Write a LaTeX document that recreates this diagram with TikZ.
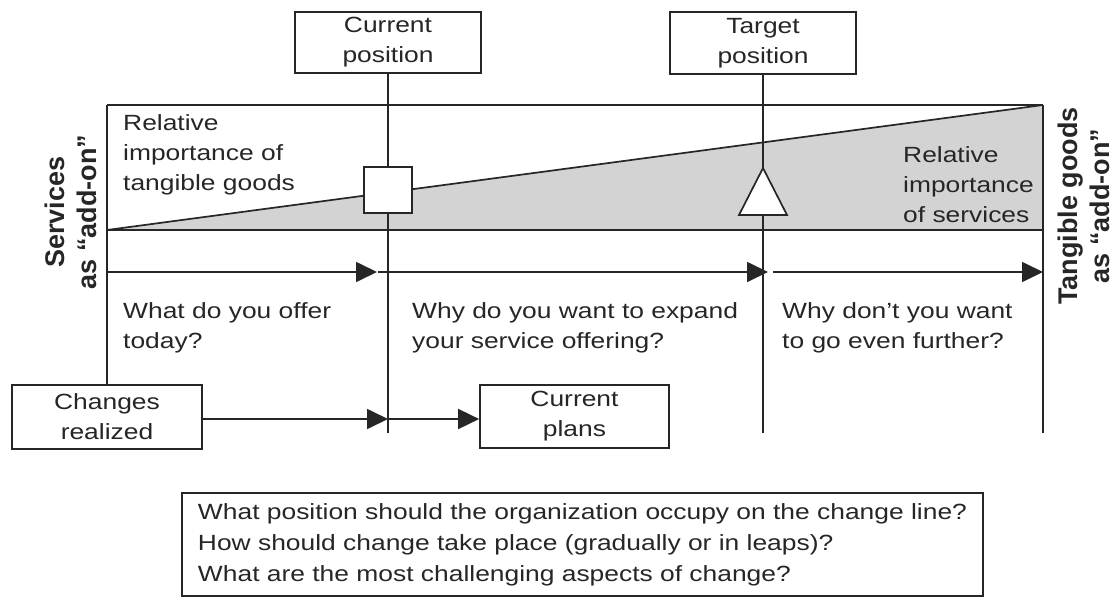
\documentclass[tikz,border=0pt]{standalone}
\usepackage{fontspec}
\setmainfont{Liberation Sans}[FakeStretch=1.2]
\newfontfamily\vfont{Liberation Sans}
\usetikzlibrary{arrows.meta}
\definecolor{wedge}{RGB}{211,211,211}
\tikzset{
  ln/.style={line width=1.7pt, black!85},
  tip/.style={-{Triangle[length=21pt,width=20pt]}},
  boxn/.style={draw, ln, fill=white, inner sep=0pt, align=center, font=\fontsize{22}{30}\selectfont},
  txt/.style={anchor=base west, inner sep=0pt, align=left, font=\fontsize{22}{30}\selectfont, text=black!85},
  vlab/.style={rotate=90, align=center, inner sep=0pt, font=\vfont\bfseries\fontsize{27}{32}\selectfont, text=black!85}
}
\begin{document}
\begin{tikzpicture}[x=1pt,y=-1pt]
\useasboundingbox (0,0) rectangle (1115,597);
% key coordinates
\coordinate (TL) at (107,105);
\coordinate (TR) at (1043,105);
\coordinate (BL) at (107,230);
\coordinate (BR) at (1043,230);
\coordinate (Rend) at (1043,433);
% wedge
\fill[wedge] (BL) -- (TR) -- (BR) -- cycle;
\draw[ln] (BL) -- (TR);
\draw[ln] (TL) -- (TR);
\draw[ln] (BL) -- (BR);
\draw[ln] (TR) -- (Rend);
% boxes
\node[boxn, minimum width=186pt, minimum height=61pt] (cur) at (388,42.5) {Current\\position};
\node[boxn, minimum width=186pt, minimum height=62pt] (tgt) at (763,43) {Target\\position};
\node[boxn, minimum width=190pt, minimum height=64pt] (chg) at (107,417) {Changes\\realized};
\node[boxn, minimum width=189pt, minimum height=63pt] (plans) at (574.5,416.5) {Current\\plans};
\draw[ln] (TL) -- (chg.north -| TL);
% vertical position lines
\coordinate (Cend) at (388,433);
\coordinate (Tend) at (763,433);
\draw[ln] (cur.south) -- (Cend);
\draw[ln] (tgt.south) -- (Tend);
% markers
\node[draw, ln, fill=white, minimum width=48pt, minimum height=46pt, inner sep=0pt] (sq) at (388,190) {};
\draw[ln, fill=white] (763,168) -- (787,215) -- (739,215) -- cycle;
% top arrows
\coordinate (A0) at (107,272);
\coordinate (A1) at (377,272);
\coordinate (A2) at (378,272);
\coordinate (A3) at (768,272);
\coordinate (A4) at (773,272);
\coordinate (A5) at (1043,272);
\draw[ln, tip] (A0) -- (A1);
\draw[ln, tip] (A2) -- (A3);
\draw[ln, tip] (A4) -- (A5);
% lower arrows
\coordinate (M) at (388,419);
\draw[ln, tip] (chg.east |- M) -- (M);
\draw[ln, tip] (M) -- (plans.west |- M);
% texts (anchored at the baseline of the last line)
\node[txt] (t1) at (123,190) {Relative\\importance of\\tangible goods};
\node[txt] (t2) at (903,222) {Relative\\importance\\of services};
\node[txt] (q1) at (123,348) {What do you offer\\today?};
\node[txt] (q2) at (412,348) {Why do you want to expand\\your service offering?};
\node[txt] (q3) at (782,348) {Why don’t you want\\to go even further?};
\node[vlab] (vl) at (71,212) {Services\\as “add-on”};
\node[vlab] (vr) at (1084,206) {Tangible goods\\as “add-on”};
% question box
\node[draw, ln, minimum width=801pt, minimum height=103pt, inner sep=0pt, align=left, font=\fontsize{22}{31}\selectfont, text=black!85] (qb) at (582.5,544.5)
{What position should the organization occupy on the change line?\\How should change take place (gradually or in leaps)?\\What are the most challenging aspects of change?};
\end{tikzpicture}
\end{document}
